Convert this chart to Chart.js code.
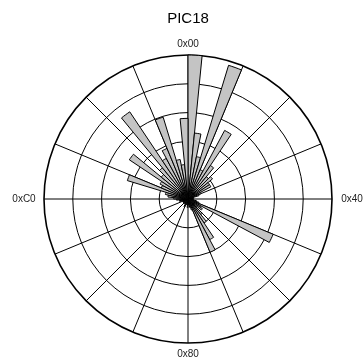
<!DOCTYPE html>
<html>
<head>
<meta charset="utf-8">
<script src="https://cdn.jsdelivr.net/npm/chart.js@4/dist/chart.umd.min.js"></script>
<style>
  body { margin: 0; background: #fff; }
  #wrap { width: 364px; height: 363px; }
</style>
</head>
<body>
<div id="wrap"><canvas id="myChart"></canvas></div>
<script>
// 64 bins of 4 opcodes each, clockwise from the top
var categories = [];
for (var i = 0; i < 64; i++) {
  categories.push('0x' + (i * 4).toString(16).toUpperCase().padStart(2, '0'));
}
var counts = [
  5.0, 2.3, 1.5, 4.85, 1.1, 2.7, 1.4, 1.0,
  1.1, 0.9, 0.9, 0.5, 0.4, 0.2, 0.2, 0.1,
  0.1, 0.2, 0.3, 0.4, 3.2, 0.5, 0.6, 0.4,
  0.7, 1.0, 1.6, 2.0, 0.4, 0.3, 0.2, 0.2,
  0.3, 0.2, 0.2, 0.2, 0.3, 0.2, 0.2, 0.1,
  0.2, 0.2, 0.2, 0.2, 0.2, 0.3, 0.3, 0.4,
  0.5, 0.7, 0.8, 2.2, 1.0, 1.1, 2.45, 1.2,
  1.4, 3.64, 1.6, 1.9, 2.97, 1.4, 1.2, 2.8
];
var tickLabels = ['0x00', '0x40', '0x80', '0xC0'];
var tickIndex = [0, 16, 32, 48];

// the four direction labels round the outer ring
var outerLabels = {
  id: 'outerLabels',
  afterDraw: function(chart) {
    var scale = chart.scales.r;
    var ctx = chart.ctx;
    ctx.save();
    ctx.font = '10px "Liberation Sans", Arial, sans-serif';
    ctx.fillStyle = '#222';
    ctx.textAlign = 'center';
    ctx.textBaseline = 'middle';
    tickIndex.forEach(function(idx, k) {
      var gap = (k % 2 === 0) ? 11 : 20;
      var p = scale.getPointPosition(idx, scale.drawingArea + gap);
      ctx.fillText(tickLabels[k], p.x, p.y);
    });
    ctx.restore();
  }
};

var ctx = document.getElementById('myChart');
var myChart = new Chart(ctx, {
  type: 'polarArea',
  data: {
    labels: categories,
    datasets: [{
      label: 'PIC18',
      data: counts,
      backgroundColor: '#c4c4c4',
      borderColor: '#000',
      borderWidth: 1
    }]
  },
  options: {
    responsive: true,
    maintainAspectRatio: false,
    animation: false,
    layout: { padding: { left: 43, right: 31, top: 0, bottom: 20 } },
    plugins: {
      legend: { display: false },
      tooltip: { enabled: false },
      title: {
        display: true,
        text: 'PIC18',
        color: '#000',
        font: { family: '"Liberation Sans", Arial, sans-serif', size: 15, weight: 'normal' },
        padding: { top: 10, bottom: 27 }
      }
    },
    scales: {
      r: {
        z: 1,
        min: 0,
        max: 5,
        startAngle: 0,
        ticks: { display: false, stepSize: 1 },
        pointLabels: { display: false },
        grid: {
          circular: true,
          color: '#000',
          lineWidth: function(c) { return c.index === 5 ? 1.6 : 1; }
        },
        angleLines: {
          display: true,
          lineWidth: 1,
          color: function(c) { return c.index % 4 === 0 ? '#000' : 'rgba(0,0,0,0)'; }
        }
      }
    }
  },
  plugins: [outerLabels]
});
</script>
</body>
</html>
